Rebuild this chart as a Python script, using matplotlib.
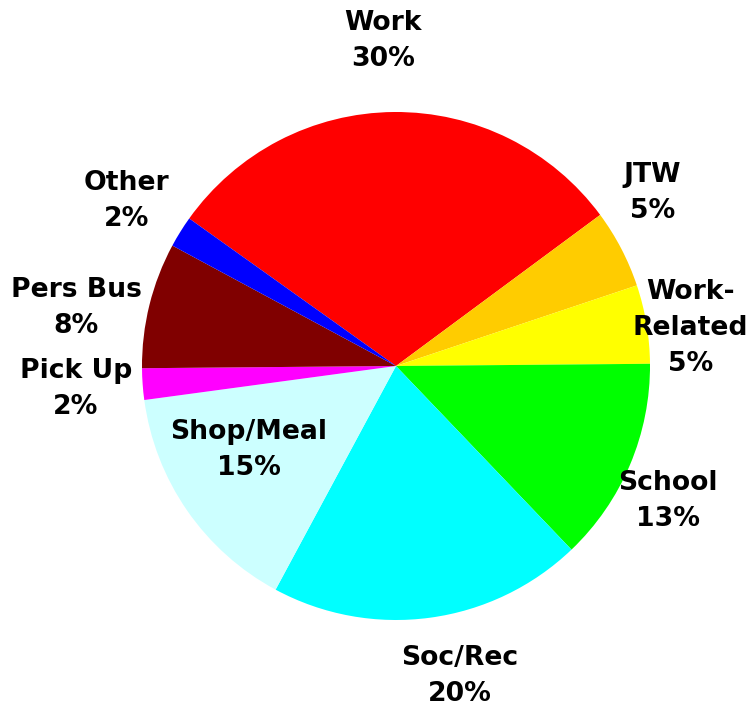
import matplotlib.pyplot as plt

# trip purpose shares (percent)
purposes = ['Work', 'JTW', 'Work-Related', 'School', 'Soc/Rec',
            'Shop/Meal', 'Pick Up', 'Pers Bus', 'Other']
shares = [30, 5, 5, 13, 20, 15, 2, 8, 2]
label_text = ['Work', 'JTW', 'Work-\nRelated', 'School', 'Soc/Rec',
              'Shop/Meal', 'Pick Up', 'Pers Bus', 'Other']
colors = ['#FF0000', '#FFCC00', '#FFFF00', '#00FF00', '#00FFFF',
          '#CCFFFF', '#FF00FF', '#800000', '#0000FF']

# label anchor points in pie units (radius = 1)
label_pos = [(-0.05, 1.28), (1.01, 0.68), (1.16, 0.15), (1.07, -0.53),
             (0.25, -1.22), (-0.58, -0.33), (-1.26, -0.09), (-1.26, 0.23),
             (-1.06, 0.65)]

fig = plt.figure(figsize=(7.51, 7.11), dpi=100)
ax = fig.add_axes([0, 0, 1, 1])
ax.pie(shares, colors=colors, startangle=144.5, counterclock=False,
       radius=1.0, center=(0, 0), wedgeprops={'linewidth': 0})

for txt, val, (x, y) in zip(label_text, shares, label_pos):
    ax.text(x, y, f'{txt}\n{val}%', ha='center', va='center',
            fontsize=19.2, fontweight='bold', family='DejaVu Sans',
            linespacing=1.5, zorder=5)

ax.set_xlim(-396 / 254, (751 - 396) / 254)
ax.set_ylim(-(711 - 366) / 254, 366 / 254)
ax.set_aspect('equal')
ax.axis('off')

fig.savefig('out.png', dpi=100)
